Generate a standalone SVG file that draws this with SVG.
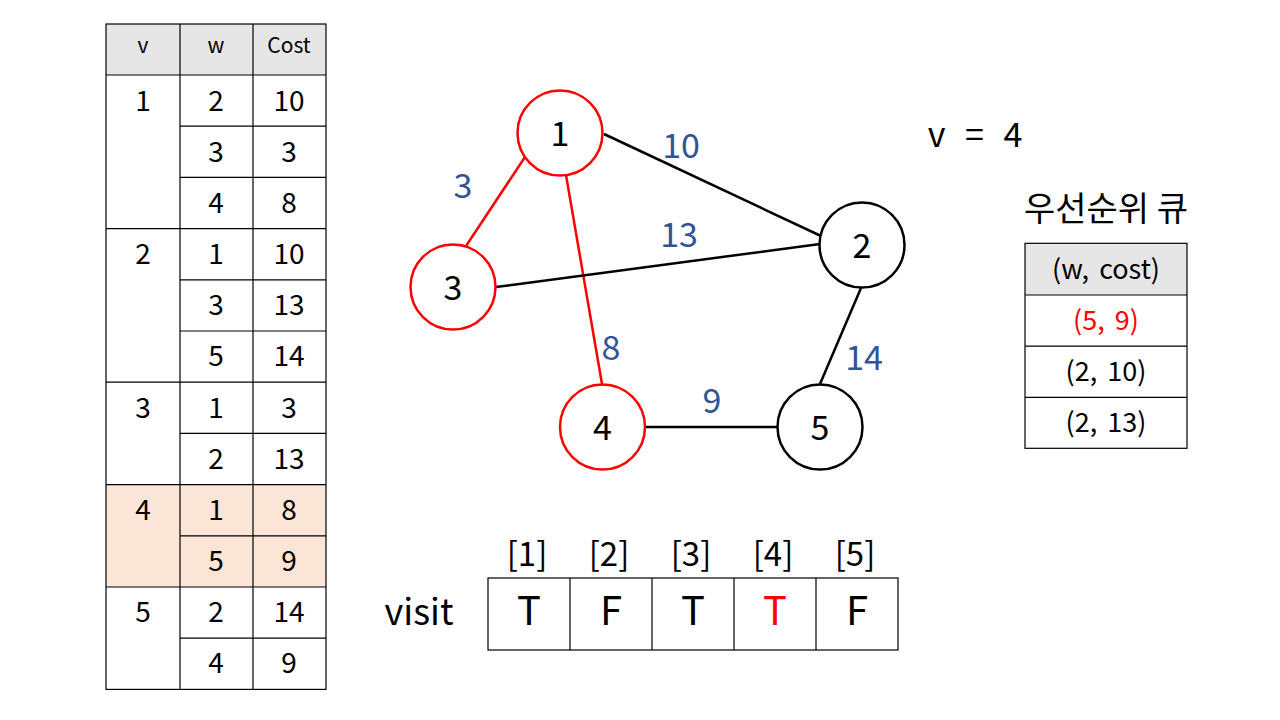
<svg xmlns="http://www.w3.org/2000/svg" width="1280" height="720" viewBox="0 0 1280 720">
<style>
text{font-family:"Noto Sans CJK KR","Noto Sans",sans-serif;text-anchor:middle;fill:#000}
.hd{font-size:21px}
.td{font-size:28px}
.nl{font-size:34px}
.el{font-size:34px;fill:#2F5597}
.red{fill:#FF0000}
.q{font-size:27px;word-spacing:4px}
.grid{stroke:#000;stroke-width:1.2;fill:none}
.node{fill:#fff;stroke-width:2.5}
.edge{stroke-width:2.5;fill:none}
</style>
<rect width="1280" height="720" fill="#fff"/>
<g id="adj-table">
<rect x="106" y="24" width="220" height="51" fill="#E7E6E6"/>
<rect x="106" y="484.6" width="220" height="102.4" fill="#FBE5D6"/>
<g class="grid">
<rect x="106" y="24" width="220" height="665.4"/>
<line x1="180" y1="24" x2="180" y2="689.4"/>
<line x1="253" y1="24" x2="253" y2="689.4"/>
<line x1="106" y1="75" x2="326" y2="75"/>
<line x1="180" y1="126.2" x2="326" y2="126.2"/>
<line x1="180" y1="177.4" x2="326" y2="177.4"/>
<line x1="106" y1="228.6" x2="326" y2="228.6"/>
<line x1="180" y1="279.8" x2="326" y2="279.8"/>
<line x1="180" y1="331" x2="326" y2="331"/>
<line x1="106" y1="382.2" x2="326" y2="382.2"/>
<line x1="180" y1="433.4" x2="326" y2="433.4"/>
<line x1="106" y1="484.6" x2="326" y2="484.6"/>
<line x1="180" y1="535.8" x2="326" y2="535.8"/>
<line x1="106" y1="587" x2="326" y2="587"/>
<line x1="180" y1="638.2" x2="326" y2="638.2"/>
</g>
<text class="hd" x="143" y="53">v</text>
<text class="hd" x="216" y="53">w</text>
<text class="hd" x="289" y="53">Cost</text>
<text class="td" x="143" y="111">1</text>
<text class="td" x="216" y="111">2</text><text class="td" x="289" y="111">10</text>
<text class="td" x="216" y="162">3</text><text class="td" x="289" y="162">3</text>
<text class="td" x="216" y="213">4</text><text class="td" x="289" y="213">8</text>
<text class="td" x="143" y="264">2</text>
<text class="td" x="216" y="264">1</text><text class="td" x="289" y="264">10</text>
<text class="td" x="216" y="315">3</text><text class="td" x="289" y="315">13</text>
<text class="td" x="216" y="366">5</text><text class="td" x="289" y="366">14</text>
<text class="td" x="143" y="418">3</text>
<text class="td" x="216" y="418">1</text><text class="td" x="289" y="418">3</text>
<text class="td" x="216" y="469">2</text><text class="td" x="289" y="469">13</text>
<text class="td" x="143" y="520">4</text>
<text class="td" x="216" y="520">1</text><text class="td" x="289" y="520">8</text>
<text class="td" x="216" y="571">5</text><text class="td" x="289" y="571">9</text>
<text class="td" x="143" y="622">5</text>
<text class="td" x="216" y="622">2</text><text class="td" x="289" y="622">14</text>
<text class="td" x="216" y="673">4</text><text class="td" x="289" y="673">9</text>
</g>
<g id="connectors">
<line class="edge" stroke="#000" x1="604" y1="134" x2="821" y2="236"/>
<line class="edge" stroke="#FF0000" x1="525" y1="157" x2="466" y2="246"/>
<line class="edge" stroke="#FF0000" x1="566" y1="175" x2="602" y2="384"/>
<line class="edge" stroke="#000" x1="496" y1="287" x2="820" y2="244"/>
<line class="edge" stroke="#000" x1="861" y1="288" x2="820" y2="384"/>
<line class="edge" stroke="#000" x1="645" y1="427" x2="777" y2="427"/>
<text class="el" x="681" y="158">10</text>
<text class="el" x="463" y="198">3</text>
<text class="el" x="679" y="247">13</text>
<text class="el" x="611" y="360">8</text>
<text class="el" x="864" y="370">14</text>
<text class="el" x="712" y="413">9</text>
</g>
<g id="node-1"><circle class="node" stroke="#FF0000" cx="560" cy="133" r="42.5"/><text class="nl" x="560" y="146">1</text></g>
<g id="node-2"><circle class="node" stroke="#000" cx="862" cy="245" r="42.5"/><text class="nl" x="862" y="258">2</text></g>
<g id="node-3"><circle class="node" stroke="#FF0000" cx="453" cy="287" r="42.5"/><text class="nl" x="453" y="300">3</text></g>
<g id="node-4"><circle class="node" stroke="#FF0000" cx="602.5" cy="427" r="42.5"/><text class="nl" x="602.5" y="440">4</text></g>
<g id="node-5"><circle class="node" stroke="#000" cx="820" cy="427" r="42.5"/><text class="nl" x="820" y="440">5</text></g>
<g id="current-v"><text x="975" y="147" style="font-size:34px;word-spacing:12px">v = 4</text></g>
<g id="priority-queue">
<text x="1106" y="221" style="font-size:34px">우선순위 큐</text>
<rect x="1025" y="243.3" width="162" height="51.7" fill="#E7E6E6"/>
<g class="grid">
<rect x="1025" y="243.3" width="162" height="205"/>
<line x1="1025" y1="295" x2="1187" y2="295"/>
<line x1="1025" y1="346.2" x2="1187" y2="346.2"/>
<line x1="1025" y1="397.3" x2="1187" y2="397.3"/>
</g>
<text class="q" x="1106" y="279">(w, cost)</text>
<text class="q red" x="1106" y="330">(5, 9)</text>
<text class="q" x="1106" y="381">(2, 10)</text>
<text class="q" x="1106" y="432">(2, 13)</text>
</g>
<g id="visit-array">
<text x="419" y="625" style="font-size:36px">visit</text>
<g class="grid">
<rect x="488" y="578" width="410" height="72"/>
<line x1="570" y1="578" x2="570" y2="650"/>
<line x1="652" y1="578" x2="652" y2="650"/>
<line x1="734" y1="578" x2="734" y2="650"/>
<line x1="816" y1="578" x2="816" y2="650"/>
</g>
<text x="527" y="566" style="font-size:33px">[1]</text>
<text x="609" y="566" style="font-size:33px">[2]</text>
<text x="691" y="566" style="font-size:33px">[3]</text>
<text x="773" y="566" style="font-size:33px">[4]</text>
<text x="855" y="566" style="font-size:33px">[5]</text>
<text x="529" y="625" style="font-size:40px">T</text>
<text x="611" y="625" style="font-size:40px">F</text>
<text x="693" y="625" style="font-size:40px">T</text>
<text class="red" x="775" y="625" style="font-size:40px">T</text>
<text x="857" y="625" style="font-size:40px">F</text>
</g>
</svg>
